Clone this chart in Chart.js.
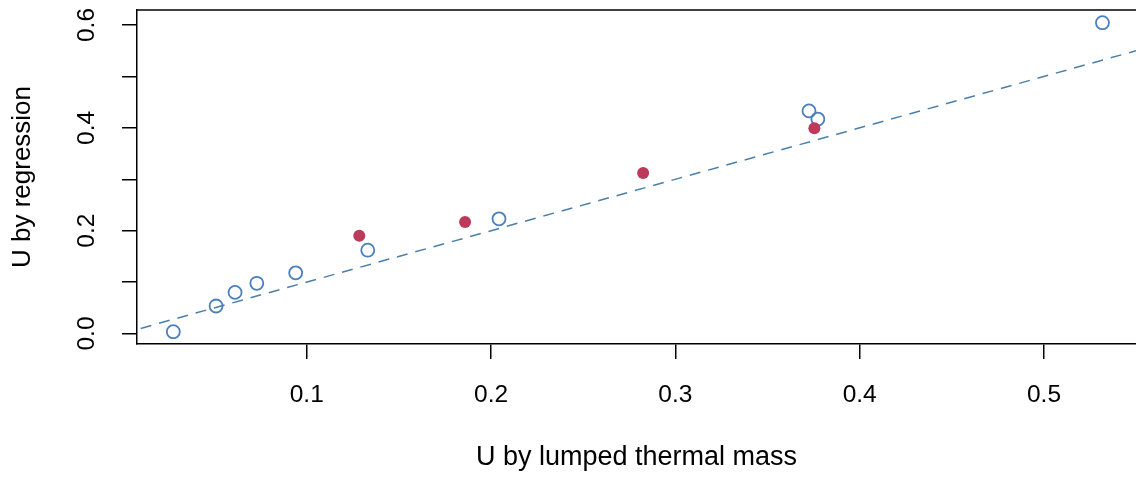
<!DOCTYPE html>
<html>
<head>
<meta charset="utf-8">
<script src="https://cdn.jsdelivr.net/npm/chart.js@4.4.0/dist/chart.umd.min.js"></script>
<style>
html, body { margin: 0; padding: 0; background: #fff; overflow: hidden; }
</style>
</head>
<body>
<canvas id="myChart" width="1136" height="477"></canvas>
<script>
// U by lumped thermal mass (x) against U by regression (y)
var openX = [0.0276, 0.0508, 0.0611, 0.0729, 0.0940, 0.1331, 0.2043, 0.3725, 0.3773, 0.5317];
var openY = [0.0035, 0.0535, 0.0800, 0.0976, 0.1180, 0.1620, 0.2230, 0.4330, 0.4170, 0.6045];
var filledX = [0.1285, 0.1859, 0.2825, 0.3754];
var filledY = [0.1900, 0.2170, 0.3120, 0.3990];
// 1:1 reference line
var refX = [0, 0.6];
var refY = [0, 0.6];
var xTicks = [0.1, 0.2, 0.3, 0.4, 0.5];
var yTicks = [0, 0.1, 0.2, 0.3, 0.4, 0.5, 0.6];
var yTickLabels = ['0.0', '', '0.2', '', '0.4', '', '0.6'];

function toPoints(xs, ys) {
    return xs.map(function (x, i) { return { x: x, y: ys[i] }; });
}

var fontFamily = "'Liberation Sans', Arial, sans-serif";

// top edge of the plot box (R draws box on all sides, right is off screen)
var topBorder = {
    id: 'topBorder',
    afterDraw: function (chart) {
        var ctx = chart.ctx, a = chart.chartArea;
        ctx.save();
        ctx.strokeStyle = '#000';
        ctx.lineWidth = 1.5;
        ctx.beginPath();
        ctx.moveTo(a.left, a.top);
        ctx.lineTo(a.right, a.top);
        ctx.stroke();
        ctx.restore();
    }
};

var ctx = document.getElementById('myChart').getContext('2d');
var chart = new Chart(ctx, {
    type: 'scatter',
    data: {
        datasets: [{
            type: 'line',
            data: toPoints(refX, refY),
            borderColor: '#4A7FAA',
            borderWidth: 1.5,
            borderDash: [11, 8],
            pointRadius: 0,
            fill: false,
            order: 3
        }, {
            data: toPoints(openX, openY),
            pointStyle: 'circle',
            pointRadius: 6.5,
            borderWidth: 1.8,
            borderColor: '#4A7FBF',
            backgroundColor: 'rgba(0,0,0,0)',
            order: 2
        }, {
            data: toPoints(filledX, filledY),
            pointStyle: 'circle',
            pointRadius: 6,
            borderWidth: 0,
            backgroundColor: '#BE3A5A',
            order: 1
        }]
    },
    options: {
        responsive: false,
        animation: false,
        layout: { autoPadding: false, padding: { top: 10, right: 0, left: 0, bottom: 0 } },
        plugins: {
            legend: { display: false },
            tooltip: { enabled: false }
        },
        scales: {
            x: {
                type: 'linear',
                min: 0.0079,
                max: 0.5499,
                afterBuildTicks: function (s) { s.ticks = xTicks.map(function (v) { return { value: v }; }); },
                afterFit: function (s) {
                    s.height = 133;
                    s.paddingLeft = 0;
                    s.paddingRight = 0;
                },
                grid: { drawOnChartArea: false, drawTicks: true, tickLength: 15, color: '#000', lineWidth: 1.5 },
                border: { display: true, color: '#000', width: 1.5 },
                ticks: {
                    color: '#000',
                    padding: 22,
                    maxRotation: 0,
                    font: { family: fontFamily, size: 24.5 },
                    callback: function (v) { return v.toFixed(1); }
                },
                title: {
                    display: true,
                    text: 'U by lumped thermal mass',
                    color: '#000',
                    font: { family: fontFamily, size: 27 },
                    padding: { top: 0, bottom: 3 }
                }
            },
            y: {
                type: 'linear',
                min: -0.0204,
                max: 0.6292,
                afterBuildTicks: function (s) { s.ticks = yTicks.map(function (v) { return { value: v }; }); },
                afterFit: function (s) {
                    s.width = 137;
                    s.paddingTop = 0;
                    s.paddingBottom = 0;
                },
                grid: { drawOnChartArea: false, drawTicks: true, tickLength: 15, color: '#000', lineWidth: 1.5 },
                border: { display: true, color: '#000', width: 1.5 },
                ticks: {
                    color: '#000',
                    padding: 18,
                    minRotation: 90,
                    maxRotation: 90,
                    crossAlign: 'center',
                    font: { family: fontFamily, size: 24.5 },
                    callback: function (v, i) { return yTickLabels[i]; }
                },
                title: {
                    display: true,
                    text: 'U by regression',
                    color: '#000',
                    font: { family: fontFamily, size: 26 },
                    padding: { top: 7, bottom: 0 }
                }
            }
        }
    },
    plugins: [topBorder]
});
</script>
</body>
</html>
